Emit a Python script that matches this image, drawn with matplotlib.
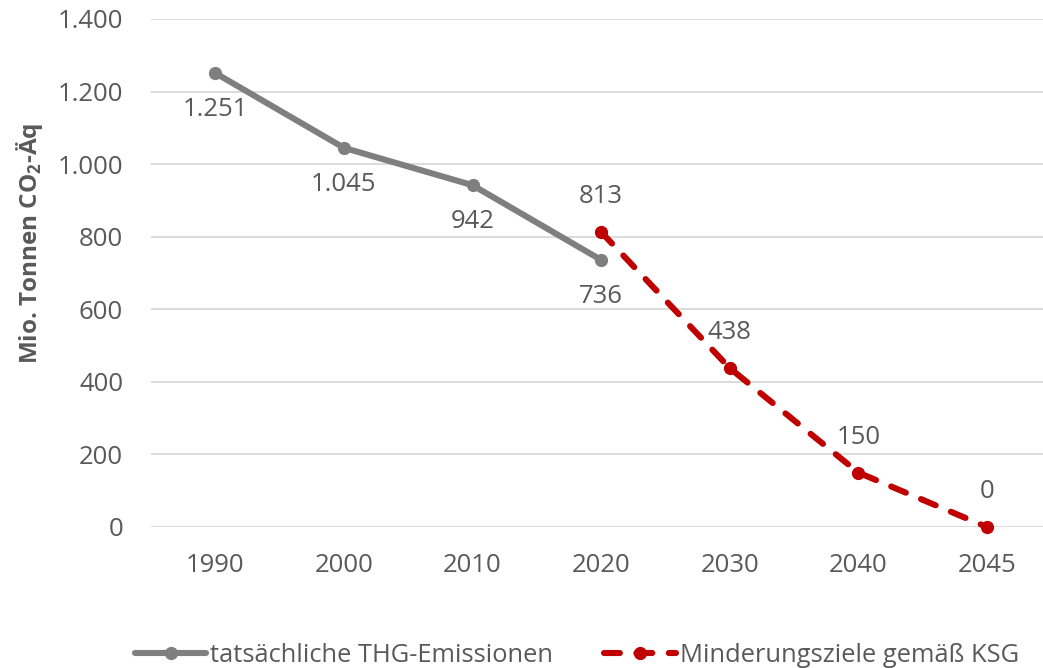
import numpy as np
import matplotlib.pyplot as plt

plt.rcParams['font.family'] = ['Open Sans', 'DejaVu Sans']
plt.rcParams['mathtext.fontset'] = 'custom'
plt.rcParams['mathtext.rm'] = 'Open Sans'
plt.rcParams['mathtext.bf'] = 'Open Sans:bold'

# Data
years = ["1990", "2000", "2010", "2020", "2030", "2040", "2045"]
actual = [1251, 1045, 942, 736]              # tatsächliche THG-Emissionen 1990-2020
actual_labels = ["1.251", "1.045", "942", "736"]
target = [813, 438, 150, 0]                   # Minderungsziele 2020-2045
target_labels = ["813", "438", "150", "0"]
y_ticks = [0, 200, 400, 600, 800, 1000, 1200, 1400]
y_tick_labels = ["0", "200", "400", "600", "800", "1.000", "1.200", "1.400"]

text_col = "#595959"
grey = "#7f7f7f"
red = "#c00000"

fig = plt.figure(figsize=(10.43, 6.68), dpi=100)
W, H = 1043, 668
ax = fig.add_axes([151 / W, (H - 527) / H, (1043 - 151) / W, (527 - 19) / H])

x_act = np.arange(len(actual))
x_tgt = np.arange(3, 3 + len(target))

ax.plot(x_act, actual, color=grey, lw=4.4, marker="o", ms=8.5,
        solid_capstyle="round", clip_on=False, zorder=3,
        label="tatsächliche THG-Emissionen")
ax.plot(x_tgt, target, color=red, lw=4.4, marker="o", ms=8.5,
        dashes=(2.6, 2.7), dash_capstyle="round", clip_on=False, zorder=3,
        label="Minderungsziele gemäß KSG")

# data labels: grey below the points, red above
for xi, v, t in zip(x_act, actual, actual_labels):
    ax.annotate(t, (xi, v), xytext=(0, -26.5), textcoords="offset points",
                ha="center", va="center", fontsize=18.5, color=text_col)
for xi, v, t in zip(x_tgt, target, target_labels):
    ax.annotate(t, (xi, v), xytext=(0, 25.5), textcoords="offset points",
                ha="center", va="center", fontsize=18.5, color=text_col)

ax.set_xlim(-0.5, (1043 - 151) / 128.6 - 0.5)
ax.set_ylim(0, 1400)
ax.set_xticks(np.arange(len(years)))
ax.set_xticklabels(years)
ax.set_yticks(y_ticks)
ax.set_yticklabels(y_tick_labels)
ax.tick_params(length=0, labelsize=18.5, labelcolor=text_col)
ax.tick_params(axis="x", pad=19)
ax.tick_params(axis="y", pad=20)
ax.grid(axis="y", color="#d9d9d9", lw=1.3)
ax.set_axisbelow(True)
for s in ax.spines.values():
    s.set_visible(False)

fig.text(30 / W, 1 - 243 / H, r"Mio. Tonnen CO$_\mathbf{2}$-Äq", rotation=90,
         ha="center", va="center", fontsize=17.5, fontweight="bold", color=text_col)

fig.legend(loc="center", bbox_to_anchor=(0.553, 1 - 655 / H), ncol=2, frameon=False,
           fontsize=18.4, labelcolor=text_col, handlelength=2.8, handletextpad=0.15,
           columnspacing=2.0)

fig.savefig("out.png", dpi=100)
